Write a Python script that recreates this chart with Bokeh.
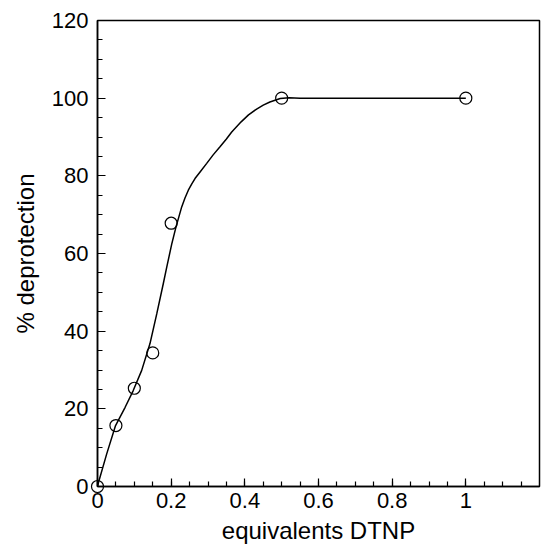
from bokeh.plotting import figure
from bokeh.models import Range1d, SingleIntervalTicker, NumeralTickFormatter
from bokeh.embed import file_html
from bokeh.resources import INLINE

# measured data points
eq_dtnp = [0, 0.05, 0.1, 0.15, 0.2, 0.5, 1.0]
deprotection = [0, 15.7, 25.3, 34.4, 67.8, 100, 100]

# smooth guide curve
curve_x = [0, 0.004, 0.025, 0.049, 0.075, 0.097, 0.12, 0.1425, 0.161, 0.179,
           0.188, 0.2015, 0.213, 0.2286, 0.2375, 0.2466, 0.256, 0.2647, 0.28,
           0.2965, 0.314, 0.3326, 0.35, 0.3644, 0.39, 0.41, 0.432, 0.45,
           0.468, 0.496, 0.52, 0.55, 1.0]
curve_y = [0, 1.5, 8.4, 15.7, 20.4, 24.7, 29.9, 36.8, 44.5, 52.4,
           56.5, 62.4, 66.8, 72.0, 74.3, 76.3, 77.9, 79.3, 81.2,
           83.2, 85.4, 87.5, 89.5, 91.3, 93.9, 95.7, 97.2, 98.2,
           99.0, 99.9, 100.1, 100, 100]

FONT = "Liberation Sans"

p = figure(width=549, height=550, output_backend="svg", toolbar_location=None,
           x_range=Range1d(0, 1.2), y_range=Range1d(0, 120),
           min_border_left=97, min_border_right=10, min_border_top=20,
           min_border_bottom=64)

p.xgrid.visible = False
p.ygrid.visible = False
p.outline_line_color = "black"
p.outline_line_width = 1.5
p.outline_line_alpha = 1.0

p.line(curve_x, curve_y, line_color="black", line_width=1.5)
p.scatter(eq_dtnp, deprotection, marker="circle", size=12,
          fill_color=None, line_color="black", line_width=1.2, level="overlay")

p.xaxis.ticker = SingleIntervalTicker(interval=0.2, num_minor_ticks=4)
p.yaxis.ticker = SingleIntervalTicker(interval=20, num_minor_ticks=4)
p.xaxis.formatter = NumeralTickFormatter(format="0.[0]")
p.xaxis.axis_label = "equivalents DTNP"
p.yaxis.axis_label = "% deprotection"

for ax in (p.xaxis[0], p.yaxis[0]):
    ax.axis_line_color = "black"
    ax.axis_line_width = 1.5
    ax.major_tick_in = 8
    ax.major_tick_out = 0
    ax.minor_tick_in = 5
    ax.minor_tick_out = 0
    ax.major_tick_line_color = "black"
    ax.minor_tick_line_color = "black"
    ax.major_tick_line_width = 1.2
    ax.minor_tick_line_width = 1.2
    ax.major_label_text_font = FONT
    ax.major_label_text_font_size = "22px"
    ax.major_label_text_color = "black"
    ax.axis_label_text_font = FONT
    ax.axis_label_text_font_size = "24px"
    ax.axis_label_text_font_style = "normal"
    ax.axis_label_text_color = "black"

p.xaxis.major_label_standoff = 6
p.yaxis.major_label_standoff = 9
p.xaxis.axis_label_standoff = 6
p.yaxis.axis_label_standoff = 10

open("out.html", "w").write(file_html(p, INLINE))
